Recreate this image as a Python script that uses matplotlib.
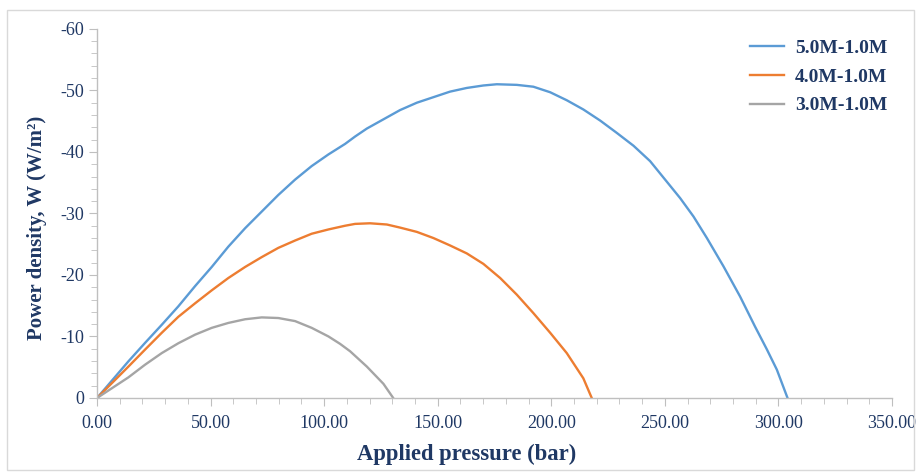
import numpy as np
import matplotlib.pyplot as plt
from matplotlib.ticker import MultipleLocator, FormatStrFormatter
from matplotlib.patches import Rectangle

plt.rcParams['font.family'] = ['Liberation Serif', 'DejaVu Serif']
plt.rcParams['axes.unicode_minus'] = False

# datos (presion en bar, densidad de potencia en W/m2)
p_5m = [0, 13.8, 21.1, 28.5, 35.8, 43.2, 50.5, 57.8, 65.2, 72.5, 79.8, 87.2,
        94.5, 101.9, 109.2, 113.6, 118.8, 126.1, 133.4, 140.8, 148.1, 155.4,
        162.8, 170.1, 176.0, 184.8, 192.1, 199.5, 206.8, 214.1, 221.5, 228.8,
        236.2, 243.5, 250.1, 256.7, 262.6, 268.5, 275.8, 283.1, 289.7, 294.9,
        299.3, 304.0]
w_5m = [0, -5.95, -8.94, -11.9, -14.9, -18.2, -21.3, -24.6, -27.6, -30.3, -33.0,
        -35.5, -37.7, -39.6, -41.3, -42.5, -43.8, -45.3, -46.8, -48.0, -48.9,
        -49.8, -50.4, -50.8, -51.0, -50.9, -50.6, -49.7, -48.4, -46.9, -45.1,
        -43.1, -41.0, -38.5, -35.5, -32.5, -29.5, -26.0, -21.4, -16.5, -11.6,
        -7.9, -4.6, 0]

p_4m = [0, 13.8, 21.1, 28.5, 35.8, 43.2, 50.5, 57.8, 65.2, 72.5, 79.8, 87.2,
        94.5, 101.9, 109.2, 113.6, 120.2, 127.6, 133.4, 140.8, 148.1, 155.4,
        162.8, 170.1, 177.5, 184.8, 192.1, 199.5, 206.8, 214.1, 217.8]
w_4m = [0, -5.1, -7.85, -10.6, -13.2, -15.4, -17.5, -19.5, -21.3, -22.9, -24.4,
        -25.6, -26.7, -27.4, -28.0, -28.3, -28.4, -28.2, -27.7, -27.0, -26.0,
        -24.8, -23.5, -21.8, -19.5, -16.8, -13.8, -10.6, -7.3, -3.2, 0]

p_3m = [0, 13.8, 21.1, 28.5, 35.8, 43.2, 50.5, 57.8, 65.2, 72.5, 79.8, 87.2,
        94.5, 101.9, 107.0, 111.4, 118.8, 126.1, 130.4]
w_3m = [0, -3.35, -5.4, -7.3, -8.9, -10.3, -11.4, -12.2, -12.8, -13.1, -13.0,
        -12.5, -11.4, -10.0, -8.8, -7.6, -5.1, -2.3, 0]

etiquetas = ['5.0M-1.0M', '4.0M-1.0M', '3.0M-1.0M']
colores = ['#5B9BD5', '#ED7D31', '#A5A5A5']

texto = '#1F3864'
gris = '#BFBFBF'

fig = plt.figure(figsize=(9.18, 4.72), dpi=100)
fig.patches.append(Rectangle((0.008, 0.004), 0.988, 0.975, transform=fig.transFigure,
                             fill=False, edgecolor='#D9D9D9', linewidth=1))
ax = fig.add_axes([0.1057, 0.1568, 0.866, 0.782])

for p, w, lab, col in zip([p_5m, p_4m, p_3m], [w_5m, w_4m, w_3m], etiquetas, colores):
    ax.plot(p, w, color=col, linewidth=1.7, label=lab, solid_joinstyle='round')

ax.set_xlim(0, 350)
ax.set_ylim(0, -60)
ax.xaxis.set_major_locator(MultipleLocator(50))
ax.xaxis.set_minor_locator(MultipleLocator(10))
ax.yaxis.set_major_locator(MultipleLocator(10))
ax.yaxis.set_minor_locator(MultipleLocator(2))
ax.xaxis.set_major_formatter(FormatStrFormatter('%.2f'))

for s in ['top', 'right']:
    ax.spines[s].set_visible(False)
for s in ['left', 'bottom']:
    ax.spines[s].set_color(gris)
    ax.spines[s].set_linewidth(1)

ax.tick_params(which='major', direction='out', length=6, color=gris,
               labelcolor=texto, labelsize=13)
ax.tick_params(which='minor', direction='out', length=4, color=gris)
ax.tick_params(axis='x', pad=6)

ax.set_xlabel('Applied pressure (bar)', fontsize=16.3, fontweight='bold', color=texto)
ax.xaxis.set_label_coords(0.465, -0.125)
ax.set_ylabel('Power density, W (W/m²)', fontsize=15, fontweight='bold', color=texto)
ax.yaxis.set_label_coords(-0.063, 0.46)

leg = ax.legend(loc='upper right', frameon=False, fontsize=14, handlelength=1.75,
                handletextpad=0.55, labelspacing=0.58, bbox_to_anchor=(1.016, 1.02))
for t in leg.get_texts():
    t.set_color(texto)
    t.set_fontweight('bold')

plt.savefig('out.png', dpi=100)
